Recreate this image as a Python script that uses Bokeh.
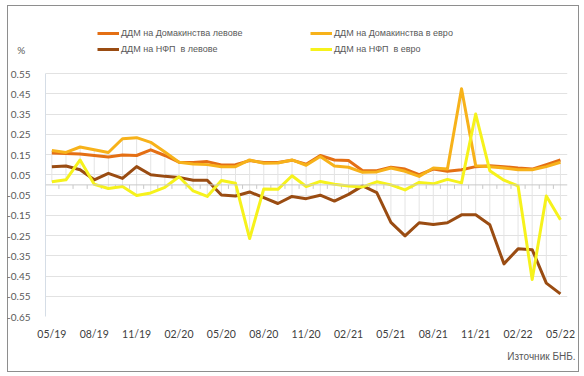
import numpy as np
from bokeh.plotting import figure
from bokeh.models import (Range1d, FixedTicker, Legend, LegendItem, Title,
                          Span, CustomJSTickFormatter)
from bokeh.embed import file_html
from bokeh.resources import INLINE

# ---------------- data ----------------
months = ["05/19", "06/19", "07/19", "08/19", "09/19", "10/19", "11/19", "12/19",
          "01/20", "02/20", "03/20", "04/20", "05/20", "06/20", "07/20", "08/20",
          "09/20", "10/20", "11/20", "12/20", "01/21", "02/21", "03/21", "04/21",
          "05/21", "06/21", "07/21", "08/21", "09/21", "10/21", "11/21", "12/21",
          "01/22", "02/22", "03/22", "04/22", "05/22"]

hh_lev = [0.158, 0.155, 0.152, 0.145, 0.138, 0.148, 0.145, 0.173, 0.145, 0.112,
          0.110, 0.115, 0.098, 0.100, 0.120, 0.110, 0.110, 0.122, 0.102, 0.145,
          0.123, 0.120, 0.070, 0.070, 0.087, 0.078, 0.050, 0.078, 0.067, 0.075,
          0.090, 0.095, 0.090, 0.083, 0.078, 0.100, 0.123]

hh_eur = [0.170, 0.160, 0.187, 0.173, 0.160, 0.228, 0.233, 0.210, 0.162, 0.112,
          0.103, 0.100, 0.090, 0.090, 0.123, 0.107, 0.108, 0.123, 0.097, 0.140,
          0.093, 0.087, 0.062, 0.064, 0.083, 0.067, 0.042, 0.083, 0.078, 0.475,
          0.095, 0.090, 0.083, 0.075, 0.075, 0.090, 0.112]

nfp_lev = [0.090, 0.093, 0.075, 0.025, 0.057, 0.032, 0.090, 0.050, 0.042, 0.037,
           0.023, 0.023, -0.050, -0.055, -0.035, -0.063, -0.092, -0.057, -0.068, -0.051,
           -0.080, -0.047, -0.005, -0.038, -0.185, -0.252, -0.187, -0.196, -0.187, -0.148,
           -0.148, -0.197, -0.390, -0.316, -0.320, -0.485, -0.538]

nfp_eur = [0.015, 0.025, 0.123, 0.003, -0.018, -0.008, -0.052, -0.040, -0.012, 0.040,
           -0.030, -0.057, 0.022, 0.008, -0.265, -0.020, -0.022, 0.045, -0.008, 0.017,
           0.003, -0.005, -0.010, 0.015, 0.000, -0.025, 0.012, 0.005, 0.027, 0.010,
           0.350, 0.070, 0.023, -0.005, -0.467, -0.055, -0.172]

series_names = ["ДДМ на Домакинства левове", "ДДМ на Домакинства в евро",
                "ДДМ на НФП  в левове", "ДДМ на НФП  в евро"]

y_ticks = [-0.65, -0.55, -0.45, -0.35, -0.25, -0.15, -0.05,
           0.05, 0.15, 0.25, 0.35, 0.45, 0.55]
unit_label = "%"
source_note = "Източник БНБ."

# ---------------- layout constants ----------------
W, H = 584, 376
FRAME_LEFT, FRAME_RIGHT, FRAME_BOTTOM = 45, 567, 316
PX_PER_UNIT = 202.5                  # vertical scale
Y_MIN, Y_MAX = y_ticks[0], y_ticks[-1]
y_top = Y_MAX + 73 / PX_PER_UNIT     # frame extends to the canvas top
unit_y = Y_MAX + (73 - 49) / PX_PER_UNIT   # vertical spot of the "%" unit

idx = list(range(len(months)))

p = figure(width=W, height=H, output_backend="svg", toolbar_location=None,
           x_range=Range1d(-0.45, len(months) - 0.5), y_range=Range1d(Y_MIN, y_top),
           min_border_left=FRAME_LEFT, min_border_right=W - FRAME_RIGHT,
           min_border_top=0, min_border_bottom=H - FRAME_BOTTOM,
           background_fill_alpha=0, border_fill_alpha=0)
p.outline_line_color = None
# outer chart border (drawn by the page behind the transparent canvas)
p.styles = {
    "background-color": "white",
    "background-image": ("linear-gradient(#8E8E8E,#8E8E8E), linear-gradient(#8E8E8E,#8E8E8E), "
                         "linear-gradient(#8E8E8E,#8E8E8E), linear-gradient(#8E8E8E,#8E8E8E)"),
    "background-size": "572px 1px, 572px 1px, 1px 367px, 1px 367px",
    "background-position": "7px 5px, 7px 371px, 7px 5px, 578px 5px",
    "background-repeat": "no-repeat",
}

# grid
p.xgrid.visible = False
p.ygrid.ticker = FixedTicker(ticks=y_ticks)
p.ygrid.grid_line_color = "#E2E2E2"
p.ygrid.grid_line_width = 1

# y axis (plus the "%" unit shown at the axis head)
p.yaxis.ticker = FixedTicker(ticks=y_ticks + [unit_y])
p.yaxis.formatter = CustomJSTickFormatter(
    args=dict(ymax=Y_MAX, unit=unit_label + "\u00a0\u00a0"),
    code="return tick > ymax + 1e-6 ? unit : tick.toFixed(2);")
p.yaxis.bounds = (Y_MIN, Y_MAX)
p.yaxis.axis_line_color = "#D5DDE6"
p.yaxis.major_tick_line_color = None
p.yaxis.minor_tick_line_color = None
p.yaxis.major_label_standoff = 9
p.yaxis.major_label_text_font = "Lato"
p.yaxis.major_label_text_font_size = "10px"
p.yaxis.major_label_text_color = "#595959"

# x axis (labels only)
p.xaxis.ticker = FixedTicker(ticks=idx[::3])
p.xaxis.major_label_overrides = {i: months[i] for i in idx[::3]}
p.xaxis.axis_line_color = None
p.xaxis.major_tick_line_color = None
p.xaxis.minor_tick_line_color = None
p.xaxis.major_label_standoff = 5
p.xaxis.major_label_text_font = "Lato"
p.xaxis.major_label_text_font_size = "10.5px"
p.xaxis.major_label_text_color = "#404040"

# source note under the axis, right aligned
p.add_layout(Title(text=source_note, align="right", offset=-8, standoff=13,
                   text_font="Liberation Sans", text_font_style="normal",
                   text_font_size="10px", text_color="#595959"), "below")

# high-low lines
arr = np.array([hh_lev, hh_eur, nfp_lev, nfp_eur])
p.segment(x0=idx, y0=arr.max(axis=0), x1=idx, y1=arr.min(axis=0),
          line_color="#E4E4E4", line_width=1)

# zero (category) axis line and its tick marks
p.add_layout(Span(location=0, dimension="width", line_color="#C8C8C8", line_width=1))
tick_x = [i - 0.5 for i in range(1, len(months))]
p.segment(x0=tick_x, y0=[0] * len(tick_x), x1=tick_x, y1=[-4 / PX_PER_UNIT] * len(tick_x),
          line_color="#C8C8C8", line_width=1)

colors = ["#E46F14", "#F7B21A", "#9A4C12", "#F6F21C"]
renderers = []
for ys, c in zip([hh_lev, hh_eur, nfp_lev, nfp_eur], colors):
    r = p.line(idx, ys, line_color=c, line_width=3, line_join="round")
    renderers.append(r)

# legends (2 x 2), positions relative to the frame's bottom-left corner
legend_pos = [(52, 277), (265, 277), (52, 261), (265, 261)]
for r, name, pos in zip(renderers, series_names, legend_pos):
    leg = Legend(items=[LegendItem(label=name, renderers=[r])], location=pos,
                 padding=0, margin=0, spacing=0,
                 glyph_width=22, glyph_height=12, label_height=12, label_standoff=2,
                 label_text_font="Liberation Sans", label_text_font_size="9px",
                 label_text_color="#595959", border_line_color=None,
                 background_fill_alpha=0)
    p.add_layout(leg)

open("out.html", "w").write(file_html(p, INLINE))
